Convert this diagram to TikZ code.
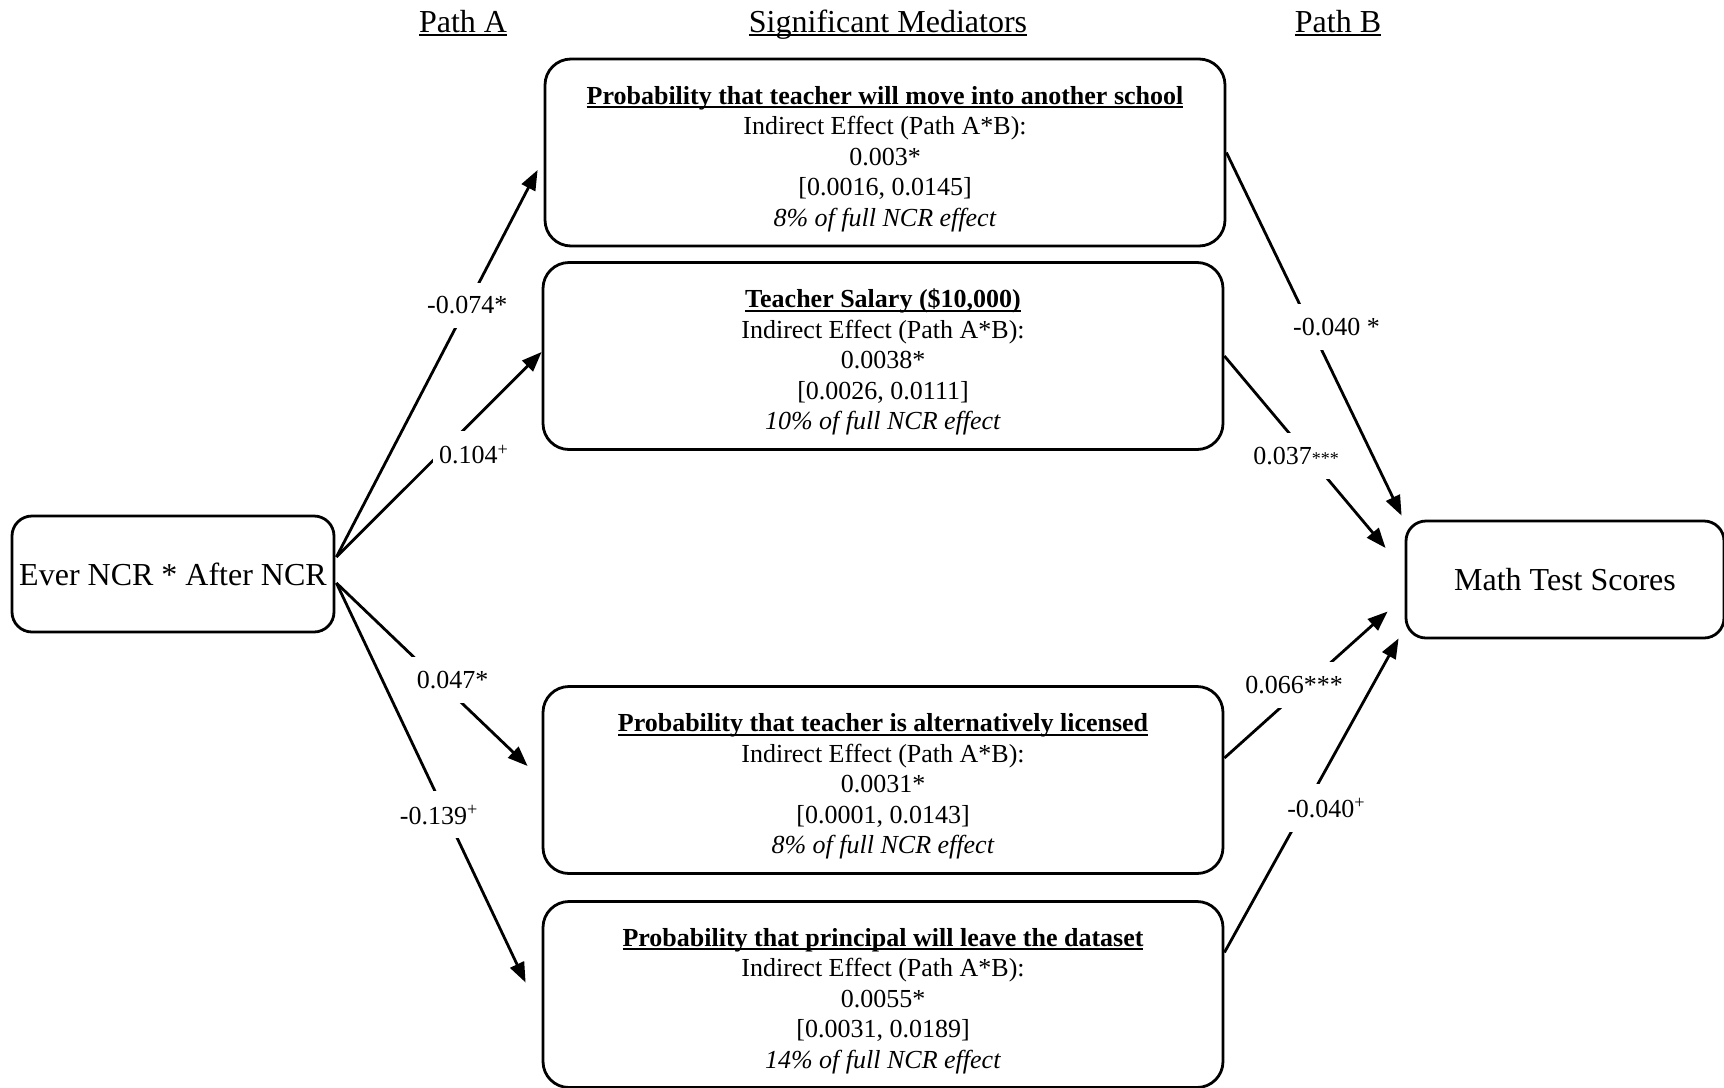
\documentclass[tikz,border=0pt]{standalone}
\usepackage{fontspec}
\setmainfont{Liberation Serif}
\usetikzlibrary{arrows.meta, calc}

% underline that sits close to the baseline
\newcommand{\undl}[1]{\leavevmode\setbox0\hbox{#1}\rlap{\rule[-1.9pt]{\wd0}{0.9pt}}\box0}
% bold underlined first line of a mediator box
\newcommand{\medtitle}[1]{\rule{0pt}{15.5pt}\undl{\textbf{#1}}}

\begin{document}
\begin{tikzpicture}[x=0.5pt, y=-0.5pt, >={Triangle[length=10pt, width=7.5pt]}, line width=1.4pt,
  medbox/.style={draw, rounded corners=13pt, align=center, minimum width=340pt, minimum height=93.5pt, inner sep=0pt,
    font=\fontsize{13}{15.25}\selectfont},
  endbox/.style={draw, rounded corners=10pt, minimum width=161pt, minimum height=58pt, font=\fontsize{16}{19}\selectfont},
  head/.style={anchor=base, font=\fontsize{16}{19}\selectfont},
  lab/.style={fill=white, inner xsep=3pt, inner ysep=7pt, font=\fontsize{13}{15}\selectfont}]
  \useasboundingbox (0,0) rectangle (1724,1087);

  % column headings
  \node[head] (PathA) at (463,32)  {\undl{Path A}};
  \node[head] (Med)   at (888,32)  {\undl{Significant Mediators}};
  \node[head] (PathB) at (1338,32) {\undl{Path B}};

  % treatment and outcome
  \node[endbox] (Ever) at (173,574) {Ever NCR * After NCR};
  \node[endbox, minimum width=159pt, minimum height=58.5pt] (Math) at (1565,579.5) {Math Test Scores};

  % mediators
  \node[medbox] (Move) at (885,152.5) {\medtitle{Probability that teacher will move into another school}\\ Indirect Effect (Path A*B):\\ 0.003*\\ {[0.0016, 0.0145]}\\ \textit{8\% of full NCR effect}};
  \node[medbox] (Salary) at (883,356) {\medtitle{Teacher Salary (\$10,000)}\\ Indirect Effect (Path A*B):\\ 0.0038*\\ {[0.0026, 0.0111]}\\ \textit{10\% of full NCR effect}};
  \node[medbox] (Alt) at (883,780) {\medtitle{Probability that teacher is alternatively licensed}\\ Indirect Effect (Path A*B):\\ 0.0031*\\ {[0.0001, 0.0143]}\\ \textit{8\% of full NCR effect}};
  \node[medbox, minimum height=93pt] (Prin) at (883,994.5) {\medtitle{Probability that principal will leave the dataset}\\ Indirect Effect (Path A*B):\\ 0.0055*\\ {[0.0031, 0.0189]}\\ \textit{14\% of full NCR effect}};

  % path A
  \draw[->] ($(Ever.east)+(1,-17)$) -- node[lab, pos=0.65] {-0.074*} ($(Move.west)+(-6,17.5)$);
  \draw[->] ($(Ever.east)+(1,-17)$) -- node[lab, pos=0.5, xshift=17.5pt] {0.104\textsuperscript{+}} ($(Salary.west)+(0,-4)$);
  \draw[->] ($(Ever.east)+(1,9)$) -- node[lab, pos=0.53, xshift=7.5pt] {0.047*} ($(Alt.west)+(-14,-14)$);
  \draw[->] ($(Ever.east)+(1,9)$) -- node[lab, pos=0.58, xshift=-3.5pt] {-0.139\textsuperscript{+}} ($(Prin.west)+(-16,-12)$);

  % path B
  \draw[->] (Move.east) -- node[lab, pos=0.48, xshift=13pt] {-0.040 *} ($(Math.north west)+(-3,-4)$);
  \draw[->] (Salary.east) -- node[lab, pos=0.52, xshift=-6pt] {0.037{\fontsize{9}{9}\selectfont ***}} ($(Math.west)+(-19,-31.5)$);
  \draw[->] ($(Alt.east)+(0,-22)$) -- node[lab, pos=0.5, xshift=-6pt] {0.066***} ($(Math.west)+(-17,32)$);
  \draw[->] ($(Prin.east)+(0,-42)$) -- node[lab, pos=0.46, xshift=11pt] {-0.040\textsuperscript{+}} ($(Math.south west)+(-6,-1)$);
\end{tikzpicture}
\end{document}
